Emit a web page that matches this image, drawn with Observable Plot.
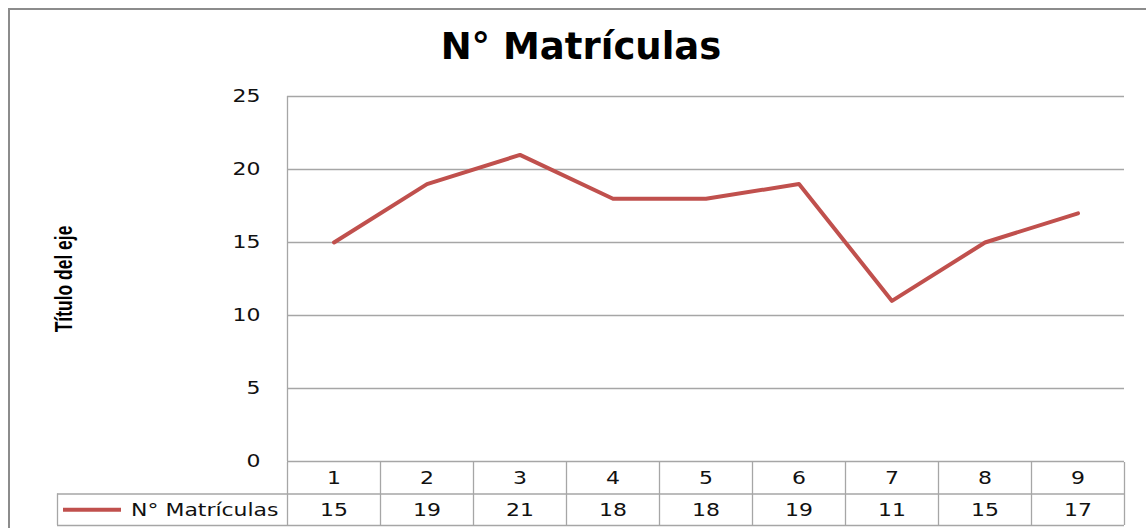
<!DOCTYPE html>
<html><head><meta charset="utf-8">
<script src="https://cdn.jsdelivr.net/npm/d3@7"></script>
<script src="https://cdn.jsdelivr.net/npm/@observablehq/plot@0.6"></script>
<style>
body{margin:0;background:#fff;}
#wrap{position:relative;width:1146px;height:528px;overflow:hidden;background:#fff;}
#frame{position:absolute;left:8px;top:8px;width:1200px;height:600px;border:2px solid #8c8c8c;box-sizing:border-box;}
#title{position:absolute;left:331px;width:500px;top:28px;text-align:center;font-family:"DejaVu Sans";font-weight:bold;font-size:37px;line-height:37px;color:#000;white-space:nowrap;}
#chart,#table{position:absolute;left:0;}
#chart{top:0;} #table{top:462px;}
</style></head><body>
<div id="wrap"><div id="frame"></div><div id="title">N° Matrículas</div><div id="chart"></div><div id="table"></div></div>
<script>
const categories = [1, 2, 3, 4, 5, 6, 7, 8, 9];
const values = [15, 19, 21, 18, 18, 19, 11, 15, 17];
const yTicks = [0, 5, 10, 15, 20, 25];
const seriesName = "N° Matrículas";
const yTitle = "Título del eje";
const rows = ["category", "value"];

const data = categories.map((c, i) => ({category: c, value: values[i]}));
const xDomain = [categories[0] - 0.5, categories[categories.length - 1] + 0.5];
const boundaries = [...categories.map(c => c - 0.5), xDomain[1]];
const gray = "#a6a6a6";
const red = "#c0504d";
const baseStyle = {background: "none", fontFamily: "DejaVu Sans", fontSize: "18px", color: "#000", overflow: "visible"};

function stretch(svg, sx, skip) {
  svg.querySelectorAll("text").forEach(t => {
    const s = skip && t.textContent === skip ? 0.76 : sx;
    const tr = t.getAttribute("transform") || "";
    t.setAttribute("transform", (tr + ` scale(${s},1)`).trim());
  });
}

const chart = Plot.plot({
  width: 1146, height: 462,
  marginTop: 96, marginBottom: 1, marginLeft: 287, marginRight: 22,
  style: baseStyle,
  x: {domain: xDomain, axis: null},
  y: {domain: [0, 25], axis: null},
  marks: [
    Plot.ruleY(yTicks, {stroke: gray, strokeWidth: 1.3}),
    Plot.ruleX([xDomain[0]], {stroke: gray, strokeWidth: 1.3}),
    Plot.axisY(yTicks, {tickSize: 0, tickPadding: 27, label: null, fill: "#111"}),
    Plot.line(data, {x: "category", y: "value", stroke: red, strokeWidth: 4}),
    Plot.text([yTitle], {frameAnchor: "left", textAnchor: "middle", rotate: -90, dx: -223, fontFamily: "Liberation Sans, Arial, sans-serif", fontWeight: "bold", fontSize: 23, fill: "#000"})
  ]
});
stretch(chart, 1.22, yTitle);
document.getElementById("chart").appendChild(chart);

const table = Plot.plot({
  width: 1146, height: 66,
  marginTop: 0, marginBottom: 3, marginLeft: 287, marginRight: 22,
  style: baseStyle,
  x: {domain: xDomain, axis: null},
  y: {domain: [0, rows.length], reverse: true, axis: null},
  marks: [
    Plot.ruleX(boundaries, {y1: 0, y2: rows.length, stroke: gray, strokeWidth: 1.3}),
    Plot.ruleX([xDomain[0]], {y1: 1, y2: 2, dx: -230, stroke: gray, strokeWidth: 1.3}),
    Plot.ruleY([1, 2], {insetLeft: -230, stroke: gray, strokeWidth: 1.3}),
    Plot.text(data, {x: "category", y: 0.5, text: d => String(d.category), fill: "#111"}),
    Plot.text(data, {x: "category", y: 1.5, text: d => String(d.value), fill: "#111"}),
    Plot.text([seriesName], {frameAnchor: "left", y: 1.5, textAnchor: "end", dx: -9, fill: "#111"}),
    Plot.ruleY([1.5], {stroke: red, strokeWidth: 4, insetLeft: -224, insetRight: 1003})
  ]
});
stretch(table, 1.22);
document.getElementById("table").appendChild(table);
</script>
</body></html>
